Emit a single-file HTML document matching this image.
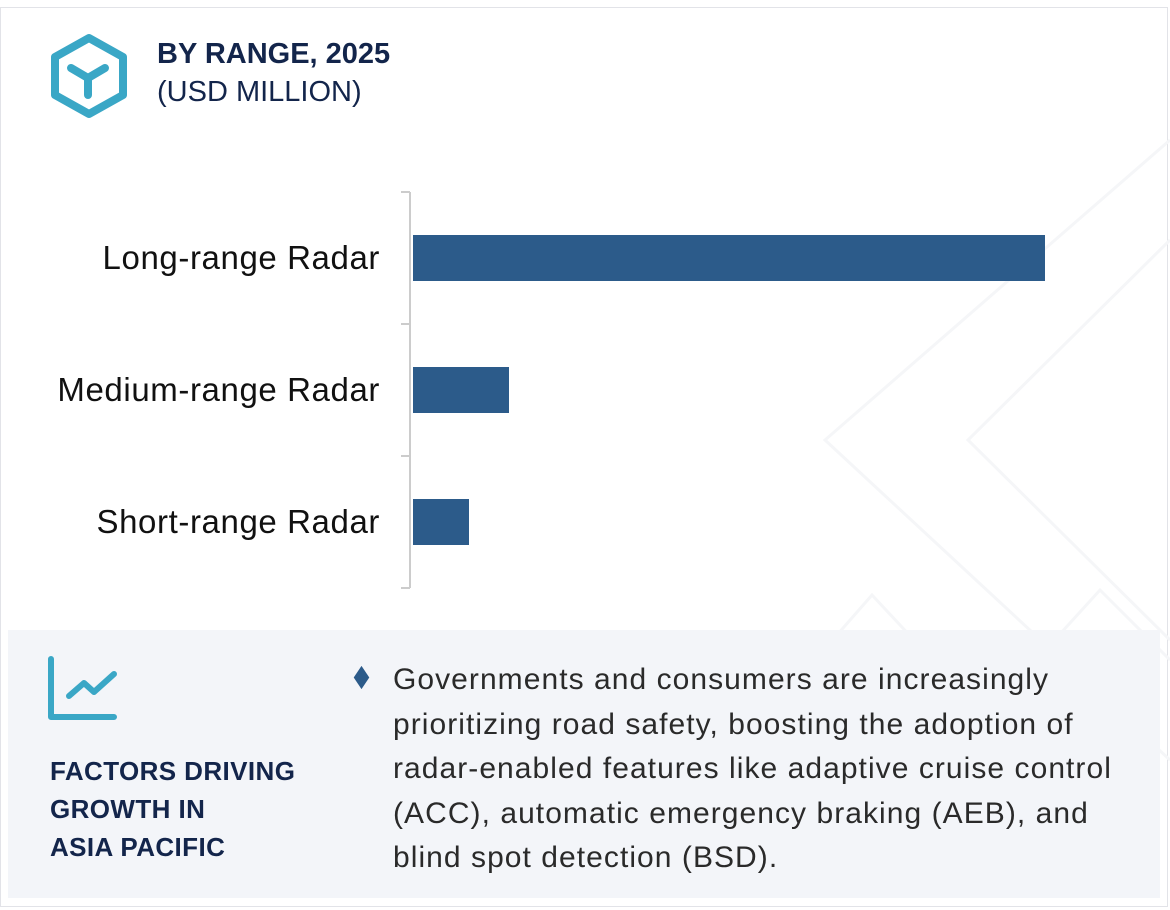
<!DOCTYPE html>
<html><head><meta charset="utf-8"><style>
body{margin:0;width:1170px;height:910px;background:#fff;font-family:"Liberation Sans",sans-serif;position:relative;overflow:hidden}
.card{position:absolute;left:0;top:7px;width:1168px;height:900px;border:1px solid #e2e3e8;box-sizing:border-box}
.t1{position:absolute;left:157px;top:38px;font-size:29px;font-weight:bold;color:#13254b}
.t2{position:absolute;left:157px;top:76px;font-size:29px;color:#13254b}
.panel{position:absolute;left:8px;top:630px;width:1152px;height:268px;background:#f3f5f9}
.ft{position:absolute;left:50px;top:752px;font-size:26px;font-weight:bold;color:#13254b;line-height:38px;letter-spacing:0.4px}
.bt{position:absolute;left:393px;top:658px;width:760px;font-size:30px;line-height:44.5px;color:#2a2a2a;letter-spacing:1.05px;white-space:nowrap}
.dia{position:absolute;left:356px;top:672px;width:11px;height:11px;background:#2c5b8a;transform:scaleY(1.5) rotate(45deg)}
</style></head><body>
<div class="card"></div>
<svg width="1170" height="910" style="position:absolute;left:0;top:0">
<g fill="none" stroke="#f5f6f8" stroke-width="3">
<polyline points="1170,140 825,440 1170,760"/><polyline points="1170,240 968,440 1170,640"/>
<polyline points="780,700 872,595 970,700"/><polyline points="1000,700 1100,590 1170,660"/>
</g></svg>
<svg width="90" height="90" style="position:absolute;left:44px;top:32px">
<polygon points="45,6 79,25 79,63 45,82 11,63 11,25" fill="none" stroke="#3aa7c6" stroke-width="8" stroke-linejoin="round"/>
<path d="M27,36 L44,46 L61,36 M44,46 L44,63" fill="none" stroke="#3aa7c6" stroke-width="8" stroke-linecap="round" stroke-linejoin="round"/>
</svg>
<div class="t1">BY RANGE, 2025</div>
<div class="t2">(USD MILLION)</div>
<svg id="chart" width="1170" height="620" style="position:absolute;left:0;top:0"></svg>
<div class="panel"></div>
<svg width="80" height="80" style="position:absolute;left:44px;top:652px">
<path d="M7,7 L7,65 L70,65" fill="none" stroke="#3aa7c6" stroke-width="6" stroke-linecap="round" stroke-linejoin="round"/>
<path d="M25,44 L40,31 L50,40 L70,22" fill="none" stroke="#3aa7c6" stroke-width="6" stroke-linecap="round" stroke-linejoin="round"/>
</svg>
<div class="ft">FACTORS DRIVING<br>GROWTH IN<br>ASIA PACIFIC</div>
<div class="dia"></div>
<div class="bt">Governments and consumers are increasingly<br>prioritizing road safety, boosting the adoption of<br>radar-enabled features like adaptive cruise control<br>(ACC), automatic emergency braking (AEB), and<br>blind spot detection (BSD).</div>
<script>
const categories=["Long-range Radar","Medium-range Radar","Short-range Radar"];
const values=[1580,240,140];
const svg=document.getElementById('chart');
const NS='http://www.w3.org/2000/svg';
const x0=413,pxPer=0.4,top0=192,band=132;
function xs(v){return x0+v*pxPer;}
function yc(i){return top0+band*i+band/2;}
function mk(t,a){const e=document.createElementNS(NS,t);for(const k in a)e.setAttribute(k,a[k]);svg.appendChild(e);return e;}
const ax=mk('line',{x1:410,x2:410,y1:top0,y2:top0+band*categories.length,stroke:'#ccc','stroke-width':2});


for(let i=0;i<=categories.length;i++){
 const t=mk('line',{x1:401,x2:410,y1:top0+band*i,y2:top0+band*i,stroke:'#ccc','stroke-width':2});
 
 
}
categories.forEach((c,i)=>{
 const b=mk('rect',{x:x0,y:yc(i)-23,width:xs(values[i])-x0,height:46,fill:'#2c5b8a'});
 
 
 const l=mk('text',{x:380,y:yc(i)+11,'text-anchor':'end','font-size':33,'letter-spacing':0.6,fill:'#111','font-family':'Liberation Sans, sans-serif'});
 l.textContent=c;
 
 
});
</script>
</body></html>
